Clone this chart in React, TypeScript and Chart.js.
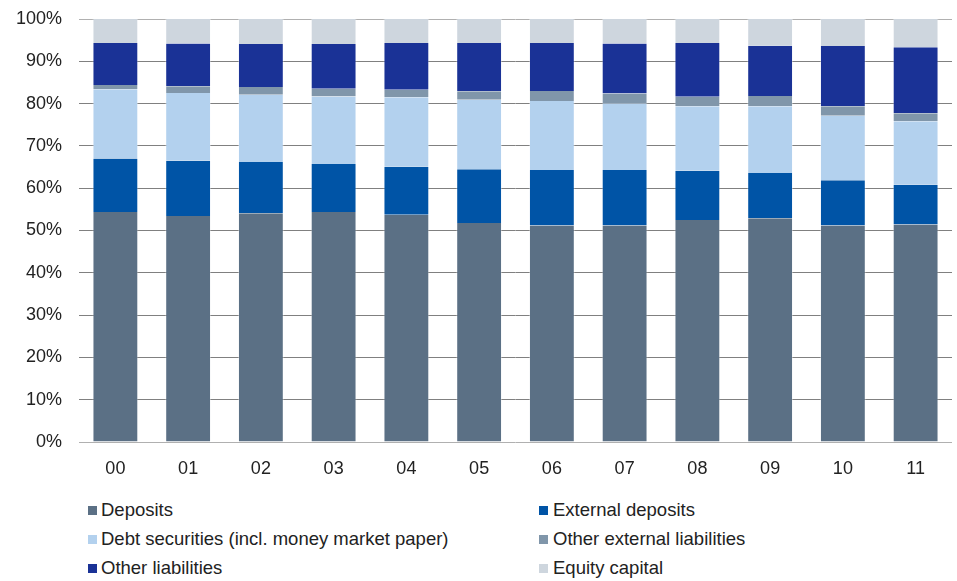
import React, { useEffect, useRef } from "react";
import { Chart, registerables } from "chart.js";

Chart.register(...registerables);

const categories = ["00", "01", "02", "03", "04", "05", "06", "07", "08", "09", "10", "11"];
const deposits = [54.4, 53.4, 54.1, 54.4, 53.7, 51.8, 51.2, 51.2, 52.5, 52.9, 51.2, 51.4];
const externalDeposits = [12.6, 13.1, 12.1, 11.3, 11.4, 12.7, 13.1, 13.1, 11.6, 10.7, 10.7, 9.4];
const debtSecurities = [16.4, 16.0, 15.9, 16.0, 16.4, 16.4, 16.3, 15.8, 15.3, 15.8, 15.2, 15.0];
const otherExternal = [1.0, 1.6, 1.8, 1.8, 1.8, 2.0, 2.4, 2.3, 2.2, 2.4, 2.3, 1.9];
const otherLiabilities = [9.9, 10.1, 10.2, 10.6, 11.0, 11.4, 11.3, 11.8, 12.7, 11.9, 14.2, 15.6];
const equityCapital = [5.7, 5.8, 5.9, 5.9, 5.7, 5.7, 5.7, 5.8, 5.7, 6.3, 6.4, 6.7];
const yTicks = [0, 10, 20, 30, 40, 50, 60, 70, 80, 90, 100];

const seriesNames = [
  "Deposits",
  "External deposits",
  "Debt securities (incl. money market paper)",
  "Other external liabilities",
  "Other liabilities",
  "Equity capital",
];
const seriesColors = ["#5B7085", "#0054A6", "#B3D1EE", "#8096AA", "#1A3296", "#CED6DE"];
const seriesData = [deposits, externalDeposits, debtSecurities, otherExternal, otherLiabilities, equityCapital];

const FONT = "'Liberation Sans', Arial, sans-serif";

export default function App() {
  const ref = useRef<HTMLCanvasElement | null>(null);

  useEffect(() => {
    if (!ref.current) return;
    const chart = new Chart(ref.current, {
      type: "bar",
      data: {
        labels: categories,
        datasets: seriesNames.map((name, i) => ({
          label: name,
          data: seriesData[i],
          backgroundColor: seriesColors[i],
          borderColor: "rgba(255,255,255,0.35)",
          borderWidth: { left: 1, right: 1, top: 0, bottom: 0 },
          barPercentage: 0.63,
          categoryPercentage: 1,
        })),
      },
      options: {
        responsive: false,
        animation: false,
        devicePixelRatio: 1,
        layout: { padding: { top: 19, right: 5, left: 0, bottom: 0 } },
        plugins: {
          legend: { display: false },
          tooltip: { enabled: false },
        },
        scales: {
          x: {
            stacked: true,
            grid: { display: false, drawTicks: false },
            border: { display: false },
            ticks: {
              color: "#222",
              font: { family: FONT, size: 18 },
              padding: 16,
            },
            afterFit: (s: any) => {
              s.height = 38;
              s.paddingLeft = 0;
              s.paddingRight = 0;
            },
          },
          y: {
            stacked: true,
            min: 0,
            max: 100,
            afterBuildTicks: (s: any) => {
              s.ticks = yTicks.map((v) => ({ value: v }));
            },
            grid: {
              drawTicks: false,
              color: (ctx: any) =>
                ctx.tick && (ctx.tick.value === 0 || ctx.tick.value === 100) ? "#b0b0b0" : "#808080",
              lineWidth: 1,
            },
            border: { display: false },
            ticks: {
              color: "#222",
              font: { family: FONT, size: 18 },
              padding: 17,
              callback: (v: any) => v + "%",
            },
            afterFit: (s: any) => {
              s.width = 79;
              s.paddingTop = 0;
              s.paddingBottom = 0;
            },
          },
        },
      },
    });
    return () => chart.destroy();
  }, []);

  const legendRows = [
    [0, 1],
    [2, 3],
    [4, 5],
  ];

  return (
    <div style={{ position: "fixed", left: 0, top: 0, width: 957, height: 581, background: "#fff", fontFamily: FONT }}>
      <canvas ref={ref} width={957} height={480} style={{ display: "block" }} />
      {legendRows.map((row, r) =>
        row.map((idx, c) => (
          <div
            key={idx}
            style={{
              position: "absolute",
              left: c === 0 ? 88 : 539,
              top: 500 + r * 29,
              height: 20,
              display: "flex",
              alignItems: "center",
              fontSize: 18.5,
              color: "#222",
              whiteSpace: "nowrap",
            }}
          >
            <span
              style={{
                display: "inline-block",
                width: 9,
                height: 9,
                background: seriesColors[idx],
                marginRight: c === 0 ? 4 : 5,
              }}
            />
            <span>{seriesNames[idx]}</span>
          </div>
        ))
      )}
    </div>
  );
}
